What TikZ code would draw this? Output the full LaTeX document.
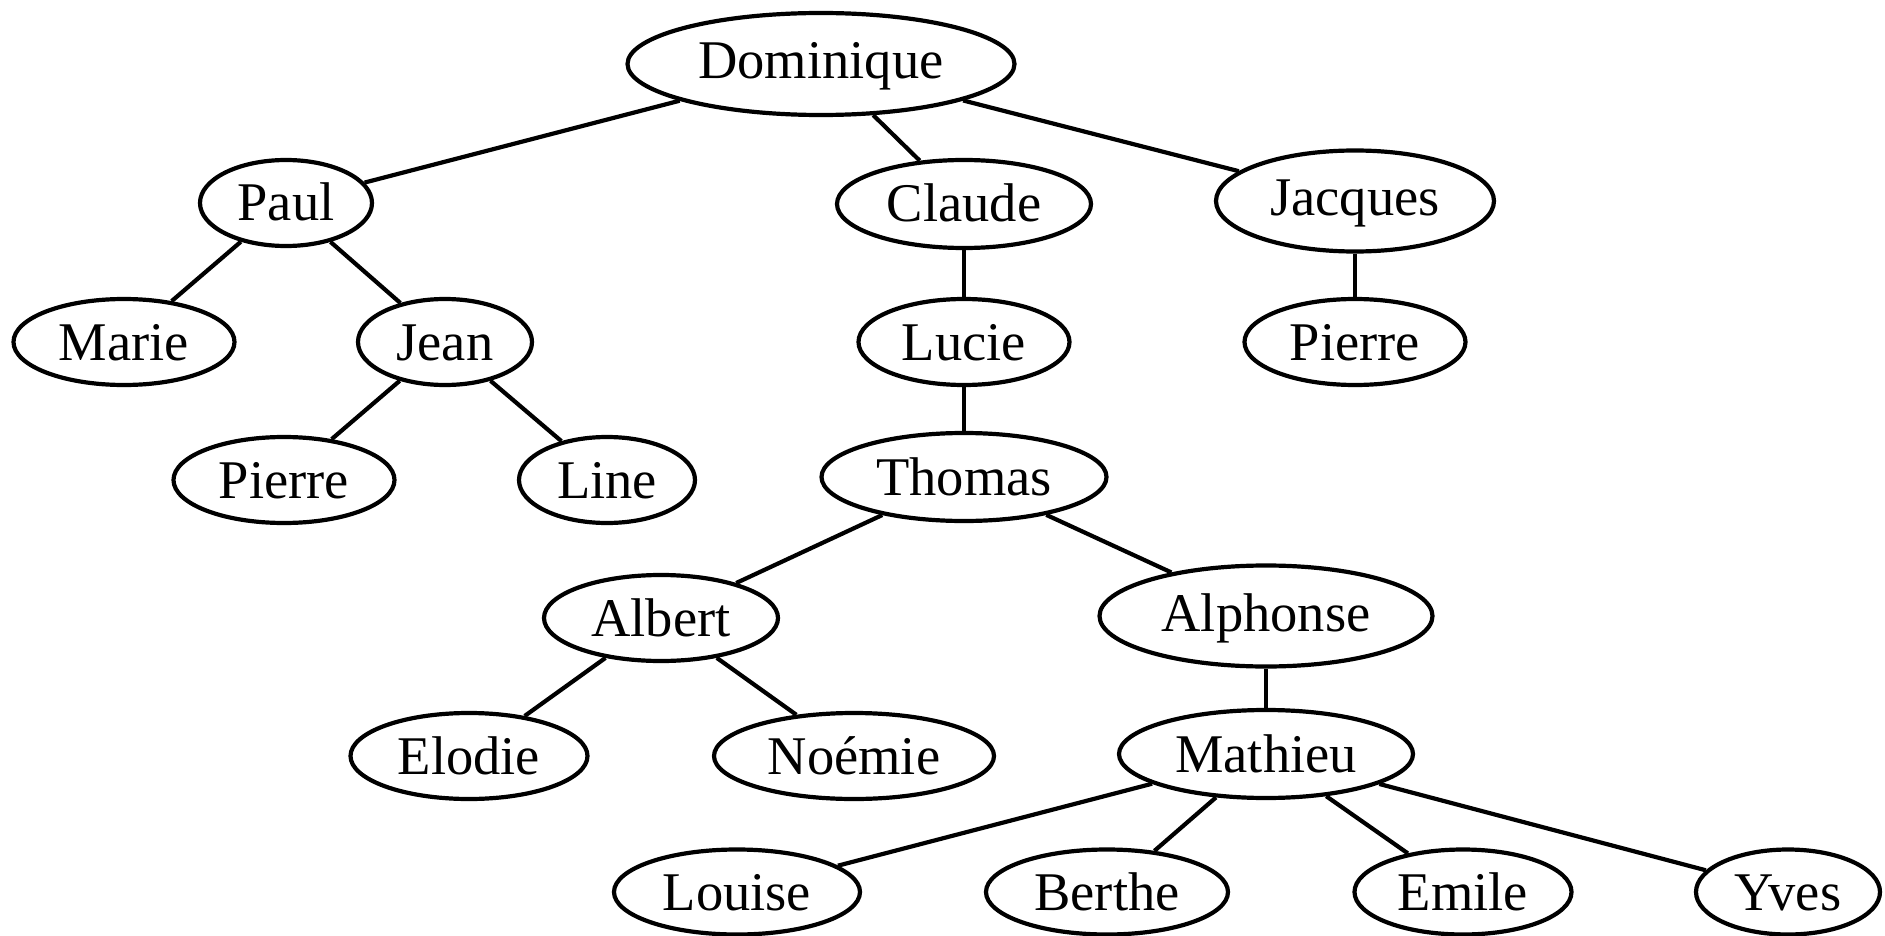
\documentclass[tikz,border=0pt]{standalone}
\usepackage{fontspec}
\setmainfont{Liberation Serif}
\usetikzlibrary{shapes.geometric}
\tikzset{
  % the name's capitals are centred in the ellipse
  person/.style={ellipse, draw, line width=4.2pt, inner sep=0pt,
    font=\fontsize{54.5}{60}\selectfont, text height=36pt, text depth=0pt},
  % names with a descender sit a little higher in their (taller) ellipse
  tallperson/.style={person, text depth=6pt},
  link/.style={line width=4.2pt}
}
\begin{document}
\begin{tikzpicture}[x=1pt,y=-1pt]
\useasboundingbox (0,0) rectangle (1885,936);
% generation 0
\node[tallperson, minimum width=387pt, minimum height=102pt] (dominique) at (821,64) {Dominique};
% generation 1
\node[person, minimum width=172pt, minimum height=86pt] (paul) at (286,203) {Paul};
\node[person, minimum width=254pt, minimum height=88pt] (claude) at (964,204) {Claude};
\node[tallperson, minimum width=278pt, minimum height=101pt] (jacques) at (1355,201) {Jacques};
% generation 2
\node[person, minimum width=221pt, minimum height=86pt] (marie) at (124,342) {Marie};
\node[person, minimum width=174pt, minimum height=86pt] (jean) at (445,342) {Jean};
\node[person, minimum width=211pt, minimum height=86pt] (lucie) at (964,342) {Lucie};
\node[person, minimum width=221pt, minimum height=86pt] (pierreJ) at (1355,342) {Pierre};
% generation 3
\node[person, minimum width=221pt, minimum height=86pt] (pierreJe) at (284,480) {Pierre};
\node[person, minimum width=176pt, minimum height=86pt] (line) at (607,480) {Line};
\node[person, minimum width=285pt, minimum height=88pt] (thomas) at (964,477) {Thomas};
% generation 4
\node[person, minimum width=234pt, minimum height=86pt] (albert) at (661,618) {Albert};
\node[tallperson, minimum width=333pt, minimum height=101pt] (alphonse) at (1266,616) {Alphonse};
% generation 5
\node[person, minimum width=237pt, minimum height=86pt] (elodie) at (469,756) {Elodie};
\node[person, minimum width=280pt, minimum height=86pt] (noemie) at (854,756) {Noémie};
\node[person, minimum width=294pt, minimum height=88pt] (mathieu) at (1266,754) {Mathieu};
% generation 6
\node[person, minimum width=246pt, minimum height=85pt] (louise) at (737,892) {Louise};
\node[person, minimum width=242pt, minimum height=85pt] (berthe) at (1107,892) {Berthe};
\node[person, minimum width=217pt, minimum height=85pt] (emile) at (1463,892) {Emile};
\node[person, minimum width=184pt, minimum height=85pt] (yves) at (1788,892) {Yves};
% parent-child links
\draw[link] (dominique) -- (paul);
\draw[link] (dominique) -- (claude);
\draw[link] (dominique) -- (jacques);
\draw[link] (paul) -- (marie);
\draw[link] (paul) -- (jean);
\draw[link] (claude) -- (lucie);
\draw[link] (jacques) -- (pierreJ);
\draw[link] (jean) -- (pierreJe);
\draw[link] (jean) -- (line);
\draw[link] (lucie) -- (thomas);
\draw[link] (thomas) -- (albert);
\draw[link] (thomas) -- (alphonse);
\draw[link] (albert) -- (elodie);
\draw[link] (albert) -- (noemie);
\draw[link] (alphonse) -- (mathieu);
\draw[link] (mathieu) -- (louise);
\draw[link] (mathieu) -- (berthe);
\draw[link] (mathieu) -- (emile);
\draw[link] (mathieu) -- (yves);
\end{tikzpicture}
\end{document}
